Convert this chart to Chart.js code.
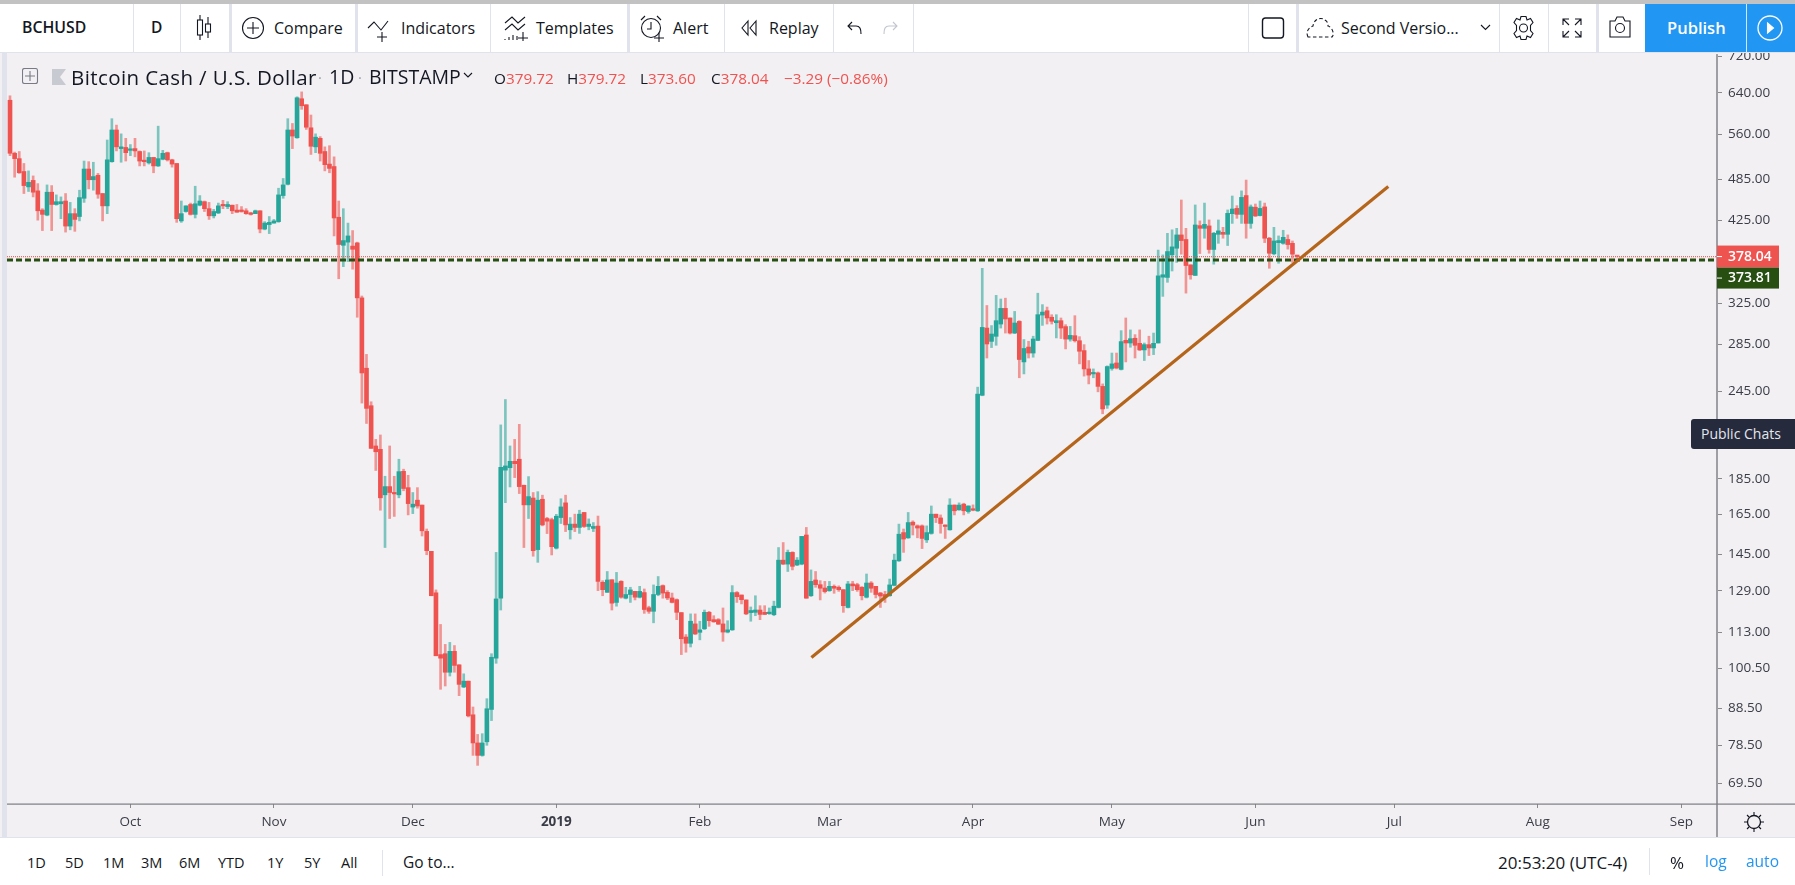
<!DOCTYPE html>
<html lang="en">
<head>
<meta charset="UTF-8">
<title>BCHUSD</title>
<script src="https://cdn.jsdelivr.net/npm/chart.js"></script>
<style>
  html,body{margin:0;padding:0;background:#fff;overflow:hidden;font-family:"Open Sans",sans-serif;color:#131722;}
  body{width:1795px;height:885px;position:relative;}
  .t{position:absolute;transform:translateY(-50%);white-space:nowrap;line-height:1;z-index:5;}
  .bar{position:absolute;z-index:3;background:#fff;}
  .sep{position:absolute;width:1px;background:#e0e3eb;z-index:4;}
  .sep.w{width:3px;}
  svg.i{position:absolute;z-index:5;fill:none;stroke:#131722;stroke-width:1.1;}
  .r{color:#ef5350;}
</style>
</head>
<body>
  <!-- top toolbar -->
  <div class="bar" style="left:0;top:0;width:1795px;height:52px;border-bottom:1px solid #e0e3eb;box-sizing:content-box;"></div>
  <div class="bar" style="left:0;top:0;width:1795px;height:4px;background:#c2c2c2;"></div>
  <div class="sep" style="left:133px;top:4px;height:48px"></div>
  <div class="sep" style="left:180px;top:4px;height:48px"></div>
  <div class="sep w" style="left:229px;top:4px;height:48px"></div>
  <div class="sep w" style="left:355px;top:4px;height:48px"></div>
  <div class="sep" style="left:490px;top:4px;height:48px"></div>
  <div class="sep w" style="left:627px;top:4px;height:48px"></div>
  <div class="sep" style="left:724px;top:4px;height:48px"></div>
  <div class="sep" style="left:833px;top:4px;height:48px"></div>
  <div class="sep" style="left:913px;top:4px;height:48px"></div>
  <div class="sep" style="left:1248px;top:4px;height:48px"></div>
  <div class="sep w" style="left:1296px;top:4px;height:48px"></div>
  <div class="sep" style="left:1499px;top:4px;height:48px"></div>
  <div class="sep" style="left:1548px;top:4px;height:48px"></div>
  <div class="sep w" style="left:1596px;top:4px;height:48px"></div>

  <span class="t" style="left:22px;top:28px;font-size:15.8px;font-weight:600;">BCHUSD</span>
  <span class="t" style="left:151px;top:28px;font-size:15.5px;font-weight:600;">D</span>
  <svg class="i" style="left:194px;top:15px" width="20" height="26"><path d="M6 0v5M6 20v5M14 2v7M14 17v6"/><rect x="3.5" y="5" width="5" height="15"/><rect x="11.5" y="9" width="5" height="8"/></svg>
  <svg class="i" style="left:241px;top:16px" width="24" height="24"><circle cx="12" cy="12" r="10.5"/><path d="M12 6v12M6 12h12"/></svg>
  <span class="t" style="left:274px;top:28px;font-size:16px;">Compare</span>
  <svg class="i" style="left:367px;top:18px" width="26" height="24"><path d="M1 10l6-6 7 8 7-9M15 14v10M10 19h10"/></svg>
  <span class="t" style="left:401px;top:28px;font-size:16px;">Indicators</span>
  <svg class="i" style="left:502px;top:15px" width="28" height="27"><path d="M3 8l7-6 6 6 7-6M3 15l7-6 6 6 7-6M3 25v-1M7 25v-3M11 25v-5M15 25v-4M21 17v9M16 23h10"/></svg>
  <span class="t" style="left:536px;top:28px;font-size:16px;">Templates</span>
  <svg class="i" style="left:639px;top:14px" width="28" height="28"><circle cx="12" cy="14" r="9.5"/><path d="M2 6l4-4M22 6l-4-4M12 8v7h-4M20 19v9M15 24h10"/></svg>
  <span class="t" style="left:673px;top:28px;font-size:16px;">Alert</span>
  <svg class="i" style="left:740px;top:19px" width="18" height="18"><path d="M8 2L2 9l6 7zM16 2l-6 7 6 7z"/></svg>
  <span class="t" style="left:769px;top:28px;font-size:16px;">Replay</span>
  <svg class="i" style="left:846px;top:20px" width="18" height="16"><path d="M6 2L2 6l4 4M2 6h8c4 0 5 3 5 8"/></svg>
  <svg class="i" style="left:881px;top:20px;stroke:#c4c6cf" width="18" height="16"><path d="M12 2l4 4-4 4M16 6H8C4 6 3 9 3 14"/></svg>
  <svg class="i" style="left:1261px;top:16px" width="24" height="24"><rect x="1.5" y="2" width="21" height="20" rx="3" stroke-width="1.4"/></svg>
  <svg class="i" style="left:1306px;top:16px" width="30" height="24"><path d="M2 21c-3-6 2-10 5-11 1-8 9-9 12-6 3 2 3 4 3 6 4 1 7 8 4 11z" stroke-dasharray="3.5 2.5"/></svg>
  <span class="t" style="left:1341px;top:28px;font-size:16px;">Second Versio...</span>
  <svg class="i" style="left:1480px;top:24px" width="11" height="8"><path d="M1 1l4.5 4.5L10 1"/></svg>
  <svg class="i" style="left:1511px;top:15px" width="25" height="26"><circle cx="12.5" cy="13" r="4"/><path d="M10 1.5h5l1 3.5 3.5-1.5 2.500 4-2.500 3v5l2.500 3-2.500 4-3.500-1.500-1 3.500h-5l-1-3.500-3.500 1.500-2.500-4 2.500-3v-5l-2.500-3 2.500-4 3.500 1.500z"/></svg>
  <svg class="i" style="left:1562px;top:18px" width="20" height="20"><path d="M1 7V1h6M1 1l6 6M19 7V1h-6M19 1l-6 6M1 13v6h6M1 19l6-6M19 13v6h-6M19 19l-6-6"/></svg>
  <svg class="i" style="left:1608px;top:15px" width="24" height="24"><path d="M2 6h5l2-4h6l2 4h5v16H2z"/><circle cx="12" cy="13" r="4.500"/></svg>
  <div class="bar" style="left:1645px;top:4px;width:150px;height:48px;background:#2196f3;z-index:4;"></div>
  <div class="bar" style="left:1746px;top:4px;width:1px;height:48px;background:#cfe8fd;z-index:5;"></div>
  <span class="t" style="left:1667px;top:28px;font-size:16.5px;font-weight:600;color:#fff;">Publish</span>
  <svg class="i" style="left:1757px;top:15px;stroke:#fff" width="26" height="26"><circle cx="13" cy="13" r="12" stroke-width="1.3"/><path d="M10.5 8l6 5-6 5z" fill="#fff"/></svg>

  <!-- legend row -->
  <svg class="i" style="left:22px;top:68px;stroke:#787b86" width="17" height="17"><rect x="0.5" y="0.5" width="15" height="15" rx="2"/><path d="M8 3v10M3 8h10"/></svg>
  <svg class="i" style="left:52px;top:69px;stroke:none;fill:#c8cad2" width="15" height="16"><path d="M0 0h14l-6 8 6 8H0z"/></svg>
  <span class="t" style="left:71px;top:77px;font-size:20.5px;letter-spacing:0.4px;">Bitcoin Cash / U.S. Dollar</span>
  <span class="t" style="left:318px;top:77px;font-size:15px;color:#a0a3ad;">·</span>
  <span class="t" style="left:329px;top:77px;font-size:19.5px;">1D</span>
  <span class="t" style="left:358px;top:77px;font-size:15px;color:#a0a3ad;">·</span>
  <span class="t" style="left:369px;top:77px;font-size:19.5px;">BITSTAMP</span>
  <svg class="i" style="left:463px;top:72px" width="10" height="7"><path d="M1 1l4 4 4-4"/></svg>
  <span class="t" style="left:494px;top:79px;font-size:15.3px;">O<span class="r">379.72</span></span>
  <span class="t" style="left:567px;top:79px;font-size:15.3px;">H<span class="r">379.72</span></span>
  <span class="t" style="left:640px;top:79px;font-size:15.3px;">L<span class="r">373.60</span></span>
  <span class="t" style="left:711px;top:79px;font-size:15.3px;">C<span class="r">378.04</span></span>
  <span class="t r" style="left:784px;top:79px;font-size:15.3px;">−3.29 (−0.86%)</span>

  <!-- chart -->
  <div style="position:absolute;left:0;top:52px;width:1795px;height:785px;background:#f2f0f3;"></div>
  <div style="position:absolute;left:2px;top:52px;width:5px;height:785px;background:#e0e3eb;"></div>
  <canvas id="chart" width="1788" height="797" style="position:absolute;left:7px;top:40px;z-index:2;"></canvas>

  <div style="position:absolute;left:1691px;top:419px;width:104px;height:30px;background:#252a3d;border-radius:3px 0 0 3px;z-index:6;"></div>
  <span class="t" style="left:1701px;top:434px;font-size:14px;color:#e4e6ec;z-index:7;">Public Chats</span>
  <svg class="i" style="left:1743px;top:811px" width="22" height="22"><circle cx="11" cy="11" r="6.5" stroke-width="1.3"/><path d="M11 1v3M11 18v3M1 11h3M18 11h3M4 4l2 2M16 16l2 2M4 18l2-2M16 6l2-2"/></svg>

  <!-- bottom toolbar -->
  <div class="bar" style="left:0;top:837px;width:1795px;height:48px;border-top:1px solid #e0e3eb;"></div>
  <div class="sep" style="left:382px;top:850px;height:26px"></div>
  <div class="sep" style="left:1649px;top:848px;height:27px"></div>
  <span class="t" style="left:27px;top:863px;font-size:14.5px;">1D</span>
  <span class="t" style="left:65px;top:863px;font-size:14.5px;">5D</span>
  <span class="t" style="left:103px;top:863px;font-size:14.5px;">1M</span>
  <span class="t" style="left:141px;top:863px;font-size:14.5px;">3M</span>
  <span class="t" style="left:179px;top:863px;font-size:14.5px;">6M</span>
  <span class="t" style="left:218px;top:863px;font-size:14.5px;">YTD</span>
  <span class="t" style="left:267px;top:863px;font-size:14.5px;">1Y</span>
  <span class="t" style="left:304px;top:863px;font-size:14.5px;">5Y</span>
  <span class="t" style="left:341px;top:863px;font-size:14.5px;">All</span>
  <span class="t" style="left:403px;top:863px;font-size:15.5px;">Go to...</span>
  <span class="t" style="left:1498px;top:862px;font-size:17px;">20:53:20 (UTC-4)</span>
  <span class="t" style="left:1670px;top:862px;font-size:17px;">%</span>
  <span class="t" style="left:1705px;top:862px;font-size:15.5px;color:#2196f3;">log</span>
  <span class="t" style="left:1746px;top:862px;font-size:15.5px;color:#2196f3;">auto</span>

<script>
// daily candles, first one is 5 Sep 2018
const opens = [
  625,527,518,497,473,483,467,439,432,465,
  447,448,452,417,434,430,456,501,484,491,
  463,445,513,568,535,537,532,535,530,514,
  511,520,506,517,528,516,510,424,437,447,
  433,446,451,441,431,435,446,444,446,439,
  439,438,434,434,438,413,419,421,423,460,
  477,568,554,628,616,572,538,553,530,509,
  505,429,392,396,391,395,331,264,234,205.6,
  203.4,175.7,180.4,177,175.7,189.5,179.8,168.9,172.7,170,
  156.2,146.5,128.2,105.1,105.4,99.3,106.2,101.7,94.7,96.5,
  86.6,79.1,76,79.4,88.1,103.9,126,190.2,191.7,195.7,
  197,181.2,170.1,173.9,147.3,173.2,162.8,162.2,148,163.3,
  171.2,157,159.9,158.2,166,158.7,157.7,158.9,132.6,128.4,
  133.7,124.3,133,126,127.5,128.8,126.4,128.3,122.2,120.8,
  127.5,131.2,128.4,126.1,125.4,120.3,111.2,109,116,112.9,
  114.2,120.4,117.6,117.6,116,113,113.8,128.3,127.3,125.3,
  120.3,120.4,121.3,120.4,119.9,119.5,122.3,142.4,140.6,146,
  140.2,140.6,154.4,127,133.6,131.6,130.2,129.1,130.9,130.5,
  129.5,122.3,131.9,131.6,130.5,126.4,132.3,130.9,128.1,127.5,
  127,131.3,142.1,155.6,153,160.9,159,159,152,155.2,
  165.1,163.1,159.4,157,170,167.4,170.5,166.5,167.7,166.9,
  242,300.4,287.8,292.5,304.3,320,310.3,295.6,306.9,269.4,
  282.6,277.2,288.7,313.2,317.6,311,305.6,307.6,301.8,289.9,
  293.1,288.4,279.4,263.4,259.2,260,249,234.5,263.8,268.5,
  263,288.8,286.3,290.7,286,280,284.8,281.8,286.3,353.8,
  353.5,380.1,388.3,405.3,399.4,368.1,355.8,417.6,414,417.2,
  386.8,406.1,408.7,406.1,434,441.4,433,460,420.6,443.1,
  431.3,443.5,401,381.4,395.3,394.5,399.4,394.5,379.72
];
const highs = [
  634,529,530,510,498,490,478,441,476,475,
  461,458,463,450,441,468,514,513,512,494,
  463,550,589,577,561,553,542,553,531,531,
  528,520,575,532,529,517,510,452,445,449,
  474,460,452,450,440,449,453,451,446,447,
  444,441,436,439,438,423,430,426,471,486,
  589,580,632,642,616,596,561,556,538,540,
  521,452,441,421,411,396,333,276,237,210,
  213,186.5,205.6,186.5,197,190.8,187.1,177,179.8,170,
  157.4,146.5,129.4,115.8,108.6,109.3,108.2,101.7,98.8,96.5,
  88.8,81.3,81.5,91.2,105.4,146,220,238.7,205.6,210,
  220.4,181.2,186.3,177,177.5,175.5,163.4,163,165,173.5,
  175.5,163.3,165.1,167.2,166,162.6,160.7,164.1,133.3,137.3,
  133.7,136.9,133.3,130.5,130.5,128.8,130.9,129.8,122.8,131.5,
  135.1,131.5,129.1,128.1,125.7,120.3,112.1,119.8,119.8,117,
  121.3,120.8,119.1,118,122.1,117.2,131.2,128.7,127.3,125.3,
  122.5,127,123,123,122.1,124.8,148.3,150.7,147.1,146.3,
  143.6,153.7,158.2,138,137.3,133.3,133,133,131.5,131.1,
  129.5,133,133,132.2,130.8,136.2,132.9,130.9,128.4,128.8,
  134,145.2,159.9,157.4,166,161.6,159.5,159.5,159,169.5,
  165.1,164.7,159.5,173.5,170.1,171.2,171,169.6,170.1,248.4,
  364,323,302.8,333.7,329.8,330.7,310.3,316.9,307.6,289.5,
  287.9,292.6,336,323.9,321.4,313.6,313.6,310.3,303.7,302,
  312.6,292.2,284.8,270.6,263.4,260.8,251,266,277.2,277.2,
  297.9,310.3,298.6,294.1,298.6,286.3,292.6,295.6,386,380.1,
  407.4,412,414,453.5,414,368.1,446.3,424,449,425.3,
  408.7,425.3,415.3,439.2,459.3,445.3,467,483.5,446.3,447.7,
  452,449,402.2,415.3,404,411.4,405.3,397.5,379.72
];
const lows = [
  523,488,494,463,466,458,425,411,431,411,
  446,427,409,412,410,424,450,470,468,456,
  424,434,512,531,512,514,523,521,506,506,
  509,495,505,516,514,504,422,422,436,432,
  428,445,437,426,428,434,441,441,434,436,
  436,433,432,434,408,412,407,421,422,456,
  476,535,553,607,569,525,528,514,498,495,
  404,352,366,372,363,311,236,221,204,190,
  167.2,148.3,162.8,163.9,174,178,164.7,165.4,168.3,153.9,
  144.9,127,104.7,94,95,98.1,99.3,92.1,94.5,86,
  76,73.6,75.8,78.5,85,102.2,121.3,171.3,180.2,185.7,
  176.4,148.3,162.8,144.2,141.4,159,155.1,144.8,147.6,160.2,
  156.1,152.4,156.1,155.2,158.2,157,156.1,129.1,127,128.4,
  121.3,122.8,126,125.7,124.3,125.3,126.1,120,120,116.4,
  127,126,125.4,124.1,117.6,105.1,105.9,107.7,112.1,110.2,
  113.9,115.1,116.6,115.8,109.7,112.7,113.6,124.3,123.7,119.5,
  117,119.1,117.6,119.5,119.6,119.1,122.1,140.4,137.3,138,
  139.9,140.3,126,126.7,130.5,125.3,128.1,128.8,128,128.8,
  120.4,122.1,129.1,128.8,125.3,126.1,128.4,126.1,122.3,124.3,
  126.8,131.1,141.8,146,152.7,154.4,153,147.8,150.7,154.8,
  160.7,155.3,152.7,156.8,164.7,167.2,164.7,165.6,166.9,166.5,
  241.6,272.8,282.1,284.2,300.4,295.6,294.7,295,256,259.2,
  272.8,273.5,288.4,303,304.3,304.3,291,290.4,280.9,288,
  287.2,267.7,257.4,251,256,244.7,228,232,262.3,263.4,
  262.5,269.4,282.4,272.8,279.4,270.6,275,275.8,286.3,332.6,
  348,360.9,371,380.9,336.1,351.5,355.8,381.7,401,382.1,
  368.9,394.5,401,391.7,420.6,427.5,420.6,401,414,430,
  430.8,395.4,364.1,380.1,370,393.3,387.2,371,373.6
];
const closes = [
  527,518,495,475,480,465,438,433,465,447,
  451,451,417,434,426,457,501,484,489,462,
  445,516,568,538,538,528,534,531,514,513,
  520,506,518,527,516,509,427,434,445,433,
  448,452,441,431,437,445,445,447,438,436,
  437,434,433,438,413,421,422,424,461,476,
  568,557,630,614,573,539,555,527,508,502,
  428,393,398,404,387,331,260,232,204,201.8,
  174,180.4,177,176.2,189.3,179.3,170.8,170.5,169.5,156.5,
  146.8,127,104.7,103.9,99.3,106.2,101.5,95.5,96.5,86.3,
  79.1,76,79.1,88.3,104.2,125.7,192,192.8,195.7,194.2,
  180.4,170.1,174.7,146.8,172.7,159.5,161.4,148.7,164,169,
  159.5,159.9,158.2,165.1,158.7,159.9,158.7,133,129.5,133.6,
  124,132.3,126.4,127.5,129.4,126.4,128.8,121.5,120.8,127.5,
  130.9,128.1,126.1,124.3,120.4,110.6,109,117,112.3,113.8,
  120.4,117.2,116.8,115.9,113,113.8,128.3,126.6,125.4,119.8,
  121.1,121.3,119.6,119.6,120.4,122.8,142.4,140.6,146,139.6,
  142.4,153.7,126,133,131.6,130.1,128.7,130.9,130.1,129.5,
  123,131.9,131.1,129.5,127,132.3,130.1,127.5,126.9,126.4,
  131.5,142.4,154.8,152.4,160.7,159.4,157.9,152.7,155.6,165.1,
  163.3,160.2,158.7,170,166.9,170,166.9,169.5,167.2,242.9,
  301,285.4,294.7,307.6,320,309.3,295.6,305.3,271.5,281.3,
  277.2,290,313.6,316.2,310.3,307,307.6,300.4,289.9,293.4,
  288.4,278.8,263.4,258.2,260,249,231.6,265.4,267.7,264.2,
  287.6,286.3,290.3,284.2,280,284.8,281.8,286,355.3,356.6,
  384.2,390,405.3,398,367.3,356.5,418.5,414,419.3,386.8,
  407.4,410.6,406.1,434.4,440.5,433,457.3,420.6,443.5,430.8,
  441.4,401,382.1,397.5,398,402.2,392.9,381,378.04
];

// axis labels, days counted from the first candle
const monthDays = [26,57,87,118,149,177,208,238,269,299,330,361];
const monthLabels = ['Oct','Nov','Dec','2019','Feb','Mar','Apr','May','Jun','Jul','Aug','Sep'];
const priceTicks = [720,640,560,485,425,325,285,245,185,165,145,129,113,100.5,88.5,78.5,69.5];

const lastPrice = 378.04;
const levelPrice = 373.81;
// trend line end points: [day, price]
const trendStart = [173.1, 104.1];
const trendEnd = [297.7, 473.5];
const dayMin = -0.65, dayMax = 368.7;

const UP = '#26a69a', DOWN = '#ef5350';
const candleColor = i => closes[i] >= opens[i] ? UP : DOWN;
const wickColor = i => closes[i] >= opens[i] ? 'rgba(38,166,154,0.58)' : 'rgba(239,83,80,0.58)';

const axisExtras = {
  id: 'axisExtras',
  afterDraw(chart) {
    const { ctx, chartArea: a, scales: { y } } = chart;
    ctx.save();
    // axes run past the plot, up to the toolbars
    ctx.fillStyle = '#9f9fa3';
    ctx.fillRect(a.right - 1, a.top, 2, chart.height - a.top);
    ctx.fillStyle = '#7d7d81';
    ctx.fillRect(a.left, a.bottom - 0.5, chart.width - a.left, 1.2);
    // last price and level tags
    const redY = y.getPixelForValue(lastPrice);
    ctx.fillStyle = DOWN;
    ctx.fillRect(a.right, redY - 11, 62, 22);
    ctx.fillStyle = '#274f12';
    ctx.fillRect(a.right, redY + 11, 62, 21);
    ctx.fillStyle = '#fff';
    ctx.font = '600 14px "Open Sans"';
    ctx.textBaseline = 'middle';
    ctx.fillText(lastPrice.toFixed(2), a.right + 11, redY);
    ctx.fillText(levelPrice.toFixed(2), a.right + 11, redY + 21.5);
    ctx.fillRect(a.right, redY - 0.5, 5, 1);
    ctx.fillRect(a.right, redY + 21, 5, 1);
    ctx.restore();
  }
};

new Chart(document.getElementById('chart'), {
  type: 'bar',
  data: {
    datasets: [
      { type: 'line', order: 0, data: [{ x: trendStart[0], y: trendStart[1] }, { x: trendEnd[0], y: trendEnd[1] }],
        borderColor: '#b5651a', borderWidth: 3.2, pointRadius: 0 },
      { type: 'line', order: 1, data: [{ x: dayMin, y: levelPrice }, { x: dayMax - 0.6, y: levelPrice }],
        borderColor: '#274f12', borderWidth: 3, borderDash: [6, 3], pointRadius: 0 },
      { type: 'line', order: 2, data: [{ x: dayMin, y: lastPrice }, { x: dayMax, y: lastPrice }],
        borderColor: 'rgba(239,83,80,0.85)', borderWidth: 1.3, borderDash: [1, 1], pointRadius: 0 },
      { order: 3, data: opens.map((o, i) => ({ x: i, y: [o, closes[i]] })), barThickness: 4, minBarLength: 1.5,
        backgroundColor: opens.map((o, i) => candleColor(i)) },
      { order: 4, data: opens.map((o, i) => ({ x: i, y: [lows[i], highs[i]] })), barThickness: 2,
        backgroundColor: opens.map((o, i) => wickColor(i)) }
    ]
  },
  options: {
    responsive: false,
    animation: false,
    events: [],
    layout: { padding: { top: 12 } },
    datasets: { bar: { grouped: false } },
    plugins: { legend: { display: false }, tooltip: { enabled: false } },
    scales: {
      x: {
        type: 'linear', min: dayMin, max: dayMax, offset: false,
        afterBuildTicks(axis) { axis.ticks = monthDays.map(v => ({ value: v })); },
        afterFit(axis) { axis.height = 33; },
        grid: { offset: false, drawOnChartArea: false, drawTicks: true, tickLength: 4, color: '#8a8a8e' },
        border: { display: false },
        ticks: {
          autoSkip: false, maxRotation: 0, padding: 6, color: '#3a3d47',
          font: ctx => ({ family: 'Open Sans', size: 13.5, weight: ctx.tick && ctx.tick.value === 118 ? '700' : '400' }),
          callback: v => monthLabels[monthDays.indexOf(v)]
        }
      },
      y: {
        type: 'logarithmic', position: 'right', min: 65, max: 725,
        afterBuildTicks(axis) { axis.ticks = priceTicks.map(v => ({ value: v })); },
        afterFit(axis) { axis.width = 78; },
        grid: { drawOnChartArea: false, drawTicks: true, tickLength: 5, color: '#8a8a8e' },
        border: { display: false },
        ticks: {
          autoSkip: false, padding: 6, color: '#3a3d47', crossAlign: 'near',
          font: { family: 'Open Sans', size: 13.5 },
          callback: v => v.toFixed(2)
        }
      }
    }
  },
  plugins: [axisExtras]
});
</script>
</body>
</html>
